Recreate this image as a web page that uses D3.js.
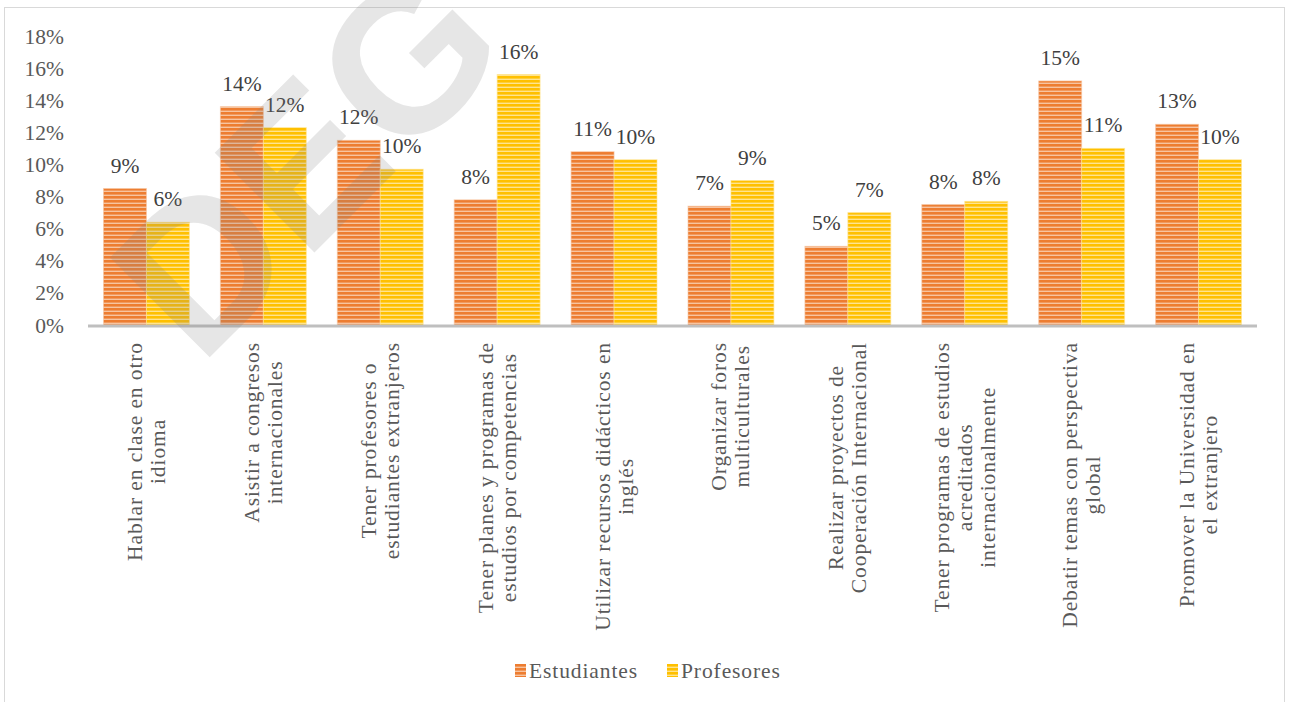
<!DOCTYPE html>
<html lang="es">
<head>
<meta charset="utf-8">
<title>Internacionalización - Estudiantes vs Profesores</title>
<script src="https://d3js.org/d3.v7.min.js"></script>
<style>
  body { margin: 0; background: #fff; }
  .serif { font-family: "Liberation Serif", "Times New Roman", serif; letter-spacing: 0.9px; }
</style>
</head>
<body>
<script>
const width = 1289;
const height = 702;

const categories = [
  ["Hablar en clase en otro", "idioma"],
  ["Asistir a congresos", "internacionales"],
  ["Tener profesores o", "estudiantes extranjeros"],
  ["Tener planes y programas de", "estudios por competencias"],
  ["Utilizar recursos didácticos en", "inglés"],
  ["Organizar foros", "multiculturales"],
  ["Realizar proyectos de", "Cooperación Internacional"],
  ["Tener programas de estudios", "acreditados", "internacionalmente"],
  ["Debatir temas con perspectiva", "global"],
  ["Promover la Universidad en", "el extranjero"]
];
const estudiantes = [8.5, 13.6, 11.5, 7.8, 10.8, 7.4, 4.9, 7.5, 15.2, 12.5];
const profesores = [6.4, 12.3, 9.7, 15.6, 10.3, 9.0, 7.0, 7.7, 11.0, 10.3];
const seriesNames = ["Estudiantes", "Profesores"];
const yTicks = [0, 2, 4, 6, 8, 10, 12, 14, 16, 18];

const colors = { Estudiantes: "#ED7D31", Profesores: "#FFC000" };
const stripes = { Estudiantes: "#f7c4a0", Profesores: "#ffe48f" };

const svg = d3.select(document.body).append("svg")
  .attr("width", width).attr("height", height);

// striped fills like the Excel pattern
const defs = svg.append("defs");
seriesNames.forEach(function(s) {
  const p = defs.append("pattern")
    .attr("id", "pat-" + s)
    .attr("patternUnits", "userSpaceOnUse")
    .attr("width", 8).attr("height", 4);
  p.append("rect").attr("width", 8).attr("height", 4).attr("fill", colors[s]);
  p.append("rect").attr("y", 2.6).attr("width", 8).attr("height", 1.4).attr("fill", stripes[s]);
});

// chart frame
svg.append("rect")
  .attr("x", 4.5).attr("y", 7.5)
  .attr("width", 1280).attr("height", 720)
  .attr("fill", "none").attr("stroke", "#d9d9d9").attr("stroke-width", 1);

const plotLeft = 88, plotRight = 1257;
const x0 = d3.scaleBand().domain(d3.range(categories.length)).range([plotLeft, plotRight]).padding(0);
const x1 = d3.scaleBand().domain(seriesNames).range([15.5, x0.bandwidth() - 15.5]);
const y = d3.scaleLinear().domain([0, 18]).range([325, 36]);

// y tick labels
svg.append("g").selectAll("text")
  .data(yTicks).enter().append("text")
  .attr("class", "serif")
  .attr("x", 64)
  .attr("y", function(d) { return y(d) + 7.5; })
  .attr("text-anchor", "end")
  .attr("font-size", "21.5px")
  .style("letter-spacing", "0px")
  .attr("fill", "#595959")
  .text(function(d) { return d + "%"; });

const data = categories.map(function(c, i) {
  return [
    { s: "Estudiantes", v: estudiantes[i], i: i },
    { s: "Profesores", v: profesores[i], i: i }
  ];
});

const groups = svg.append("g").selectAll("g")
  .data(data).enter().append("g")
  .attr("transform", function(d, i) { return "translate(" + x0(i) + ",0)"; });

groups.selectAll("rect")
  .data(function(d) { return d; }).enter().append("rect")
  .attr("x", function(d) { return x1(d.s); })
  .attr("y", function(d) { return y(d.v); })
  .attr("width", x1.bandwidth())
  .attr("height", function(d) { return y(0) - y(d.v); })
  .attr("fill", function(d) { return "url(#pat-" + d.s + ")"; })
  .attr("stroke", function(d) { return stripes[d.s]; })
  .attr("stroke-opacity", 0.6)
  .attr("stroke-width", 1);

groups.selectAll("text.lbl")
  .data(function(d) { return d; }).enter().append("text")
  .attr("class", "lbl serif")
  .attr("x", function(d) { return x1(d.s) + x1.bandwidth() / 2; })
  .attr("y", function(d) { return y(d.v) - 16; })
  .attr("text-anchor", "middle")
  .attr("font-size", "21.5px")
  .style("letter-spacing", "0px")
  .attr("fill", "#404040")
  .text(function(d) { return Math.round(d.v) + "%"; });

// axis line
svg.append("line")
  .attr("x1", plotLeft).attr("x2", plotRight)
  .attr("y1", 326).attr("y2", 326)
  .attr("stroke", "#bfbfbf").attr("stroke-width", 3);

// rotated category labels
const lineH = 23;
const catG = svg.append("g").selectAll("g")
  .data(categories).enter().append("g")
  .attr("transform", function(d, i) {
    return "translate(" + (x0(i) + x0.bandwidth() / 2) + ",342) rotate(-90)";
  });
catG.each(function(lines) {
  const g = d3.select(this);
  const n = lines.length;
  const t = g.selectAll("text").data(lines).enter().append("text")
    .attr("class", "serif")
    .attr("text-anchor", "middle")
    .attr("font-size", "21.5px")
    .attr("fill", "#595959")
    .attr("y", function(d, k) { return (k - (n - 1) / 2) * lineH + 7; })
    .text(function(d) { return d; });
  let maxW = 0;
  t.each(function() { maxW = Math.max(maxW, this.getComputedTextLength()); });
  t.attr("x", -maxW / 2);
});

// legend
const legend = svg.append("g").attr("transform", "translate(515,664)");
const legX = { Estudiantes: 0, Profesores: 152 };
seriesNames.forEach(function(s) {
  const lg = legend.append("g").attr("transform", "translate(" + legX[s] + ",0)");
  lg.append("rect").attr("width", 11).attr("height", 13).attr("fill", "url(#pat-" + s + ")");
  lg.append("text").attr("class", "serif").attr("x", 14).attr("y", 14)
    .attr("font-size", "21.5px").attr("fill", "#595959").text(s);
});

// watermark
svg.append("text")
  .attr("transform", "translate(200,367) rotate(-45)")
  .style("font-family", "'Liberation Sans', Arial, sans-serif")
  .attr("font-weight", "bold")
  .attr("font-size", "205px")
  .attr("fill", "#808080")
  .attr("fill-opacity", 0.2)
  .text("DEG");
</script>
</body>
</html>
